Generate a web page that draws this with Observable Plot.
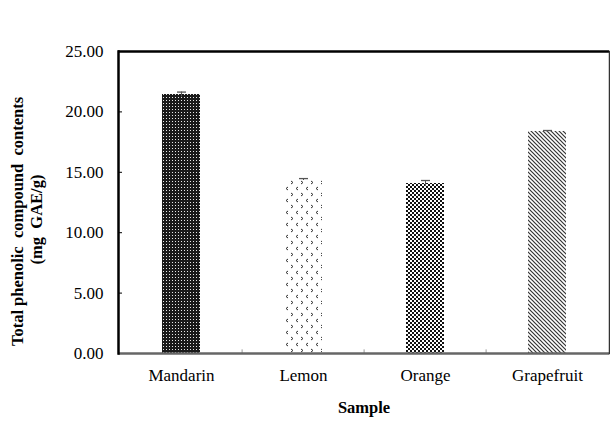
<!DOCTYPE html>
<html><head><meta charset="utf-8">
<script src="https://cdn.jsdelivr.net/npm/d3@7"></script>
<script src="https://cdn.jsdelivr.net/npm/@observablehq/plot@0.6"></script>
<style>
body{margin:0;background:#fff;}
svg{font-family:"Liberation Serif","Times New Roman",serif;}
</style></head><body>
<div id="chart"></div>
<script>
const samples = ["Mandarin", "Lemon", "Orange", "Grapefruit"];
const values = [21.44, 14.40, 14.07, 18.38];
const errors = [0.20, 0.08, 0.25, 0.08];
const patterns = ["pMand", "pLemon", "pOrange", "pGrape"];
const yTicks = [0, 5, 10, 15, 20, 25];

const data = samples.map((s, i) => ({sample: s, value: values[i], err: errors[i], pat: patterns[i]}));

const capSymbol = {
  draw(context) {
    context.moveTo(-4.5, 0);
    context.lineTo(4.5, 0);
  }
};

const W = 610, H = 423;
const plot = Plot.plot({
  width: W, height: H,
  marginLeft: 118, marginRight: 1, marginTop: 51, marginBottom: 70,
  style: {fontFamily: "'Liberation Serif','Times New Roman',serif", fontSize: "17px", color: "#000", background: "#fff"},
  x: {domain: samples, paddingInner: 0.69, paddingOuter: 0.345, align: 0.5, label: null},
  y: {domain: [0, 25], label: null},
  marks: [
    Plot.barY(data, {x: "sample", y: "value", fill: d => `url(#${d.pat})`}),
    Plot.ruleX(data, {x: "sample", y1: d => d.value - d.err, y2: d => d.value + d.err, stroke: "#555", strokeWidth: 1}),
    Plot.dot(data, {x: "sample", y: d => d.value + d.err, symbol: capSymbol, fill: "none", stroke: "#555", strokeWidth: 1.3}),
    Plot.axisY({ticks: yTicks, tickFormat: d3.format(".2f"), tickSize: -4, tickPadding: 19, fontSize: 17, stroke: "#000"}),
    Plot.axisX({tickSize: 0, tickPadding: 15, fontSize: 17}),
    // band boundary ticks on x axis
    Plot.ruleX(samples.slice(1), {x: d => d, y1: 0, y2: 0.3, dx: -61.4, stroke: "#999", strokeWidth: 1}),
    Plot.ruleY([0], {stroke: "#666", strokeWidth: 2.5}),
    Plot.ruleY([25], {stroke: "#000", strokeWidth: 2.5}),
    Plot.frame({anchor: "left", stroke: "#000", strokeWidth: 2.5}),
    Plot.frame({anchor: "right", stroke: "#333", strokeWidth: 1.5}),
    Plot.text(["Sample"], {frameAnchor: "bottom", dy: 59, fontWeight: "bold", fontSize: 16.5, fill: "#000"}),
    Plot.text(["Total phenolic  compound  contents"], {frameAnchor: "left", textAnchor: "middle", dx: -101, dy: 19, rotate: -90, fontWeight: "bold", fontSize: 16.5, fill: "#000"}),
    Plot.text(["(mg  GAE/g)"], {frameAnchor: "left", textAnchor: "middle", dx: -82, dy: 17, rotate: -90, fontWeight: "bold", fontSize: 16.5, fill: "#000"})
  ]
});

// pattern definitions
const ns = "http://www.w3.org/2000/svg";
const defs = document.createElementNS(ns, "defs");
defs.innerHTML = `
<pattern id="pMand" width="3" height="3" patternUnits="userSpaceOnUse">
  <rect width="3" height="3" fill="#1a1a1a"/>
  <rect x="1" y="1" width="1" height="1" fill="#e8e8e8"/>
</pattern>
<pattern id="pLemon" width="10" height="12" patternUnits="userSpaceOnUse">
  <rect width="10" height="12" fill="#fff"/>
  <path d="M1 1 L3 2.5 L1 4" fill="none" stroke="#333" stroke-width="1"/>
  <path d="M8 7 L6 8.5 L8 10" fill="none" stroke="#333" stroke-width="1"/>
</pattern>
<pattern id="pOrange" width="4" height="4" patternUnits="userSpaceOnUse">
  <rect width="4" height="4" fill="#fff"/>
  <rect width="2" height="2" fill="#111"/>
  <rect x="2" y="2" width="2" height="2" fill="#111"/>
</pattern>
<pattern id="pGrape" width="4" height="4" patternUnits="userSpaceOnUse">
  <rect width="4" height="4" fill="#fff"/>
  <path d="M-1 -1 L5 5 M-1 3 L1 5 M3 -1 L5 1" stroke="#333" stroke-width="1.2"/>
</pattern>`;
plot.insertBefore(defs, plot.firstChild);
document.getElementById("chart").appendChild(plot);
</script>
</body></html>
